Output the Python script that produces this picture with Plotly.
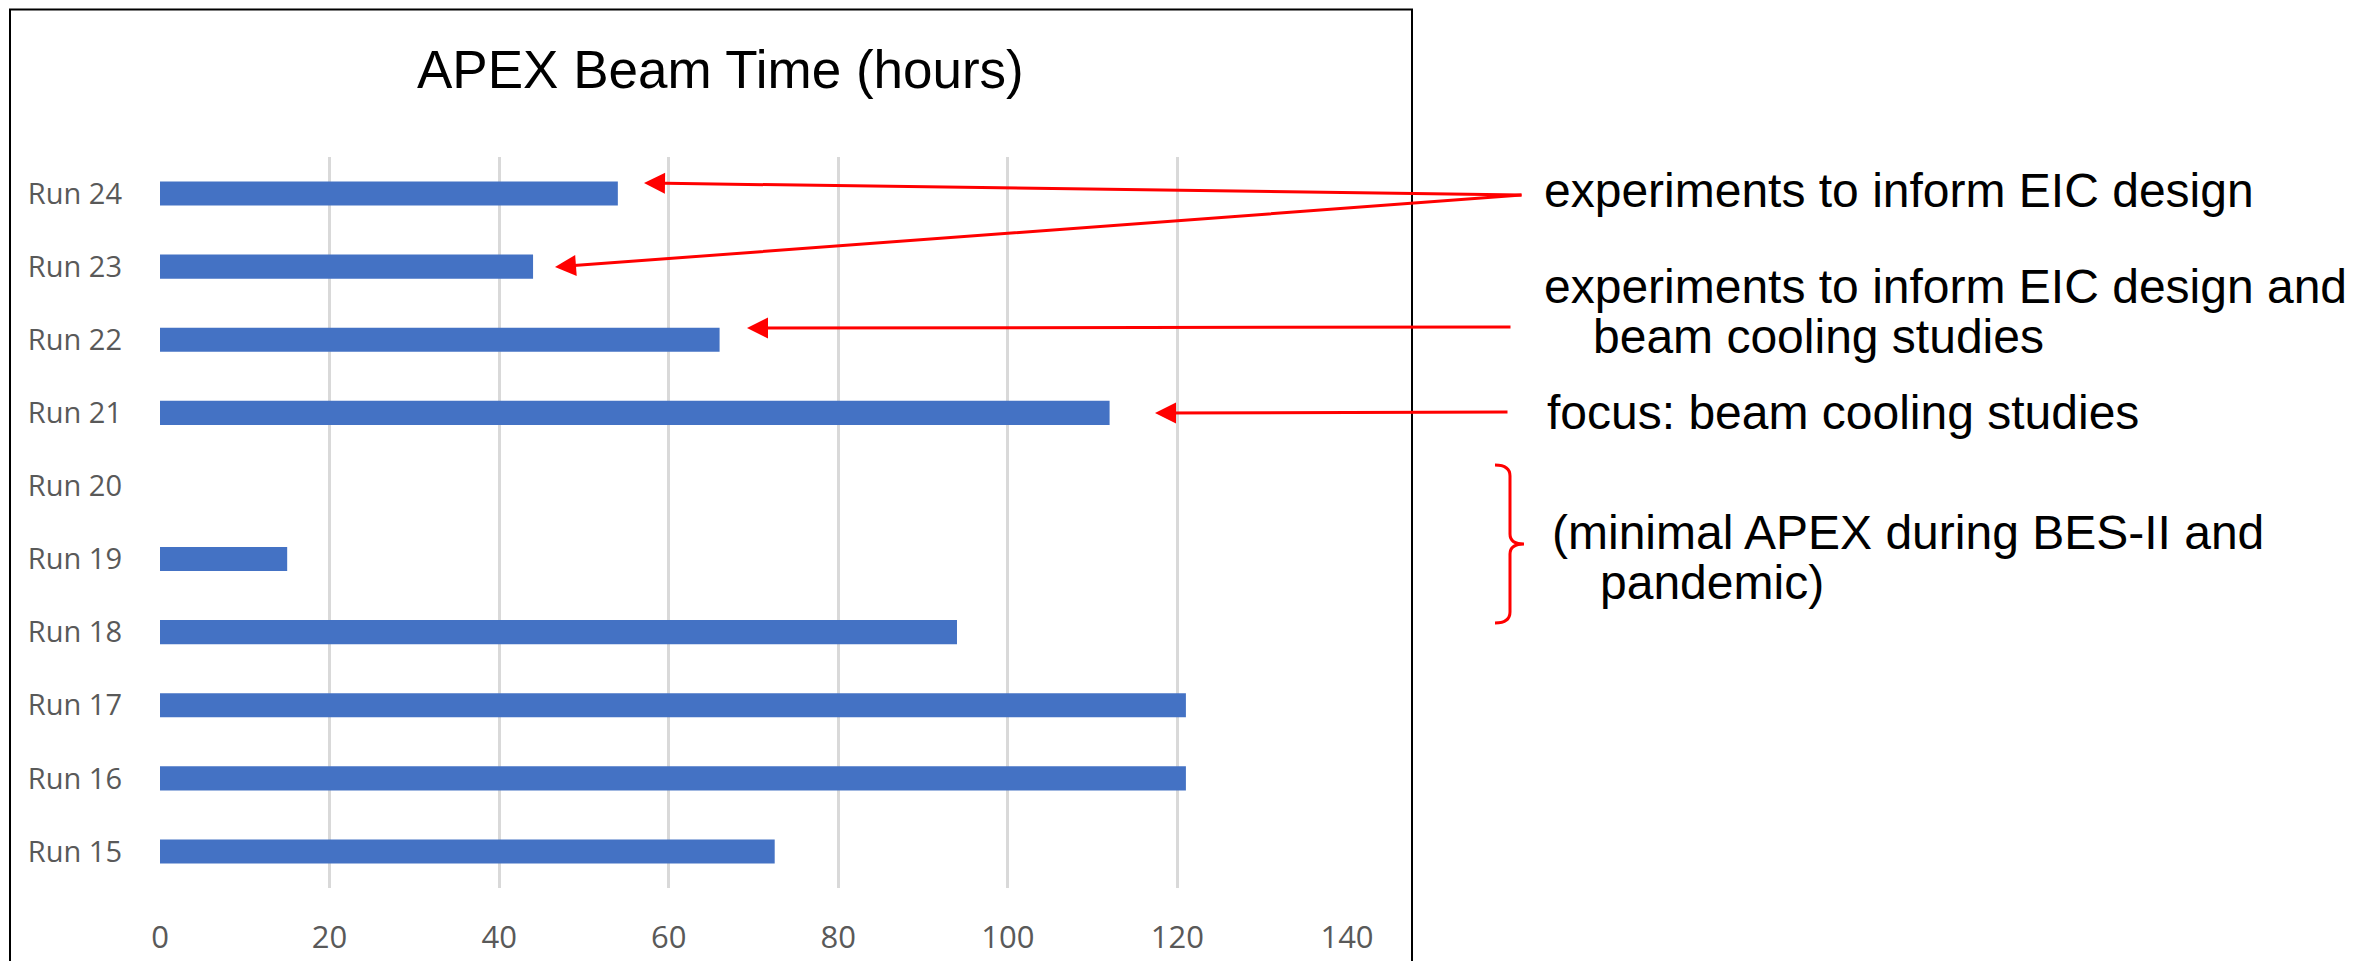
import plotly.graph_objects as go

# ---- data ----
runs = ["Run 15", "Run 16", "Run 17", "Run 18", "Run 19",
        "Run 20", "Run 21", "Run 22", "Run 23", "Run 24"]
hours = [72.5, 121, 121, 94, 15, None, 112, 66, 44, 54]
x_ticks = [0, 20, 40, 60, 80, 100, 120, 140]
title_text = "APEX Beam Time (hours)"

# ---- layout geometry (page pixels; the page body has an 8px margin) ----
OFF = 8
W, H = 2371 - 2 * OFF, 969 - 2 * OFF
L = 160 - OFF
R = W - (1347 - OFF)
T = 157 - OFF
B = H - (888 - OFF)
PW, PH = W - L - R, H - T - B


def px(x):
    return (x - OFF - L) / PW


def py(y):
    return (H - B - (y - OFF)) / PH


fig = go.Figure()
fig.add_trace(go.Bar(
    y=runs, x=hours, orientation="h",
    marker=dict(color="#4472C4", line=dict(width=0)),
    hoverinfo="x+y",
))

fig.update_layout(
    width=W, height=H,
    margin=dict(l=L, r=R, t=T, b=B, pad=0, autoexpand=False),
    paper_bgcolor="white", plot_bgcolor="white",
    bargap=0.67,
    showlegend=False,
    xaxis=dict(
        range=[0, 140], tickvals=x_ticks, ticktext=[str(v) for v in x_ticks],
        showgrid=True, gridcolor="#d9d9d9", gridwidth=2.5,
        zeroline=False, showline=False, ticks="",
        ticklabelstandoff=28,
        tickfont=dict(family="Open Sans", size=31, color="#595959"),
        automargin=False, fixedrange=True,
    ),
    yaxis=dict(
        type="category", categoryorder="array", categoryarray=runs,
        showgrid=False, zeroline=False, showline=False, ticks="",
        ticklabelstandoff=37,
        tickfont=dict(family="Open Sans", size=29, color="#595959"),
        automargin=False, fixedrange=True,
    ),
)

annotations = []
# title
annotations.append(dict(
    text=title_text, xref="paper", yref="paper",
    x=px(720), y=py(70), xanchor="center", yanchor="middle",
    showarrow=False, font=dict(family="Liberation Sans, Arial", size=53, color="black"),
))

# right side notes
notes = [
    ("experiments to inform EIC design", 1542, 191),
    ("experiments to inform EIC design and", 1542, 286),
    ("beam cooling studies", 1591, 336),
    ("focus: beam cooling studies", 1545, 412),
    ("(minimal APEX during BES-II and", 1550, 532),
    ("pandemic)", 1598, 582),
]
for txt, xx, yy in notes:
    annotations.append(dict(
        text=txt, xref="paper", yref="paper", x=px(xx), y=py(yy),
        xanchor="left", yanchor="middle", showarrow=False,
        font=dict(family="Liberation Sans, Arial", size=48, color="black"),
    ))

# arrows: (tip_x, tip_y, tail_x, tail_y) in page pixels
arrows = [
    (644, 183, 1523, 195),
    (555, 267, 1523, 195),
    (747, 328, 1512, 327),
    (1155, 413, 1509, 412),
]
for tx, ty, sx, sy in arrows:
    annotations.append(dict(
        text="", xref="paper", yref="paper", x=px(tx), y=py(ty),
        ax=sx - tx, ay=sy - ty, axref="pixel", ayref="pixel",
        showarrow=True, arrowhead=2, arrowsize=1.4, arrowwidth=3,
        arrowcolor="#FF0000", standoff=0,
    ))
fig.update_layout(annotations=annotations)

# brace
pts = [("M", 1495, 465), ("Q", 1510, 465, 1510, 476), ("L", 1510, 534),
       ("Q", 1510, 544, 1524, 544), ("Q", 1510, 544, 1510, 554),
       ("L", 1510, 612), ("Q", 1510, 623, 1495, 623)]
path = ""
for p in pts:
    cmd = p[0]
    coords = p[1:]
    segs = []
    for i in range(0, len(coords), 2):
        segs.append(f"{px(coords[i]):.5f},{py(coords[i+1]):.5f}")
    path += cmd + " " + " ".join(segs) + " "

shapes = [
    dict(type="path", xref="paper", yref="paper", path=path.strip(),
         line=dict(color="#FF0000", width=3)),
    dict(type="rect", xref="paper", yref="paper",
         x0=px(10), x1=px(1412), y0=py(9.5), y1=py(990),
         line=dict(color="black", width=2), fillcolor="rgba(0,0,0,0)"),
]
fig.update_layout(shapes=shapes)

fig.write_html("out.html")
